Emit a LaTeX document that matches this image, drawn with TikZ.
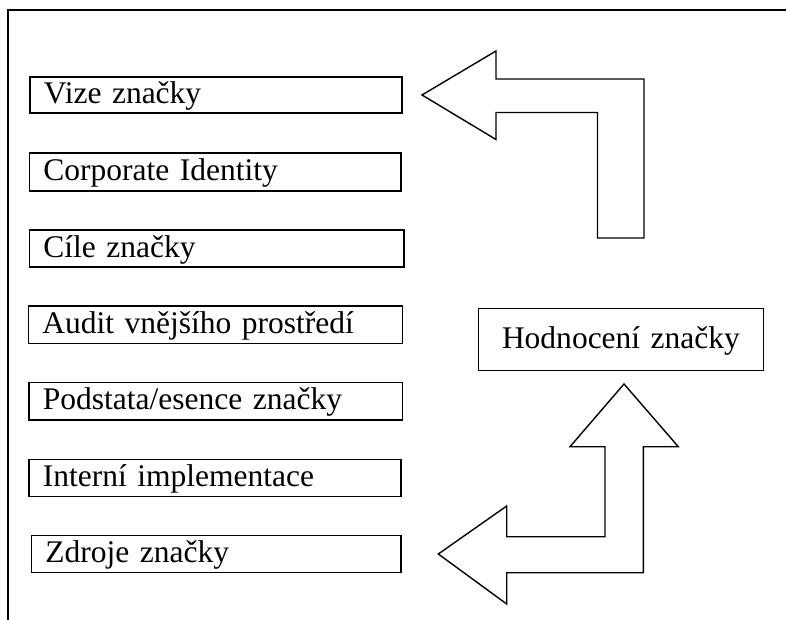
\documentclass[tikz,border=0pt]{standalone}
\usepackage{fontspec}
\setmainfont{Liberation Serif}
\begin{document}
\begin{tikzpicture}[x=1pt,y=-1pt,
  lbox/.style={draw, line width=1.9pt, anchor=north west, inner xsep=14pt, inner ysep=0pt,
    align=left, text height=23pt, text depth=5.5pt,
    font=\fontsize{31.5}{36}\selectfont},
  cbox/.style={draw, line width=1.9pt, anchor=north west, inner xsep=14pt, inner ysep=0pt,
    align=center, text height=23pt, text depth=5.5pt,
    font=\fontsize{31.5}{36}\selectfont},
  blockarrow/.style={draw, line width=1.4pt, line join=miter}]
\useasboundingbox (0,0) rectangle (786,620);
% frame
\draw[line width=2pt] (8,620) -- (8,10) -- (786,10);
% left boxes
\node[lbox, text width=344pt, minimum height=36.5pt] (vize) at (29,76) {Vize značky};
\node[lbox, text width=343.5pt, minimum height=37.5pt] (corp) at (28.5,152.5) {Corporate Identity};
\node[lbox, text width=346.5pt, minimum height=36.5pt] (cile) at (28.5,229.5) {Cíle značky};
\node[lbox, text width=346pt, minimum height=37.5pt] (audit) at (27.5,305) {Audit vnějšího prostředí};
\node[lbox, text width=345.5pt, minimum height=37.5pt] (podstata) at (28,381.5) {Podstata/esence značky};
\node[lbox, text width=344pt, minimum height=37pt] (interni) at (28,458.5) {Interní implementace};
\node[lbox, text width=341.5pt, minimum height=37pt] (zdroje) at (30.5,534.5) {Zdroje značky};
% evaluation box
\node[cbox, text width=257pt, minimum height=62pt] (hodnoceni) at (477.5,307.5) {Hodnocení značky};
% top bent arrow
\draw[blockarrow] (422,95) -- (496,51) -- (496,79) -- (644,79) -- (644,238) -- (597.5,238)
  -- (597.5,112.5) -- (496,112.5) -- (496,139.5) -- cycle;
% bottom bent arrow
\draw[blockarrow] (624,384) -- (678.3,446.7) -- (643.3,446.7) -- (643.3,572.7) -- (506.7,572.7)
  -- (506.7,604) -- (438.3,554) -- (506.7,506) -- (506.7,536.7) -- (605,536.7)
  -- (605,446.7) -- (570,446.7) -- cycle;
\end{tikzpicture}
\end{document}
